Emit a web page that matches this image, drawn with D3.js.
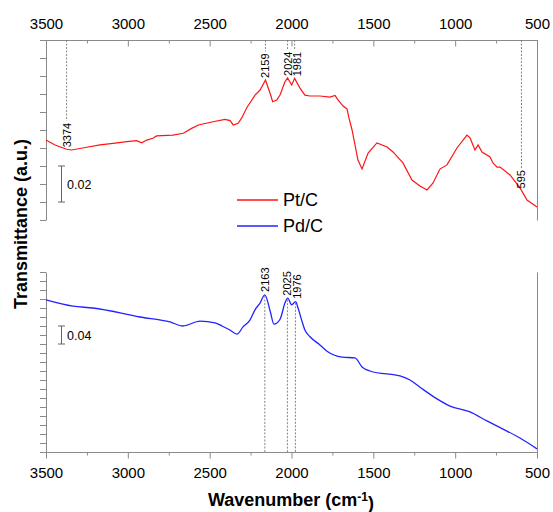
<!DOCTYPE html>
<html>
<head>
  <meta charset="utf-8">
  <title>FTIR Pt/C Pd/C</title>
  <script src="https://d3js.org/d3.v7.min.js"></script>
  <style>
    body { margin: 0; background: #fff; }
    text { font-family: "Liberation Sans", Arial, sans-serif; }
  </style>
</head>

<body>
<div id="chart"></div>
<script type="text/javascript">
  // spectra (wavenumber in cm-1, transmittance in a.u.)
  let wnPt = [3500, 3445, 3374, 3343, 3251, 3170, 3090, 3007, 2946, 2915, 2885, 2847, 2824, 2724, 2661,
              2610, 2569, 2480, 2406, 2375, 2356, 2326, 2304, 2274, 2223, 2192, 2159, 2131, 2115, 2090,
              2070, 2040, 2024, 1999, 1981, 1948, 1918, 1887, 1826, 1765, 1734, 1716, 1685, 1661, 1649,
              1630, 1594, 1569, 1532, 1478, 1416, 1380, 1319, 1264, 1215, 1172, 1135, 1093, 1050, 989,
              928, 909, 879, 860, 836, 787, 769, 744, 726, 665, 604, 561, 500];
  let tPt = [.0444, .0417, .0393, .0389, .0404, .0417, .0426, .0435, .0441, .0429, .0444, .0454, .0467, .0472, .0482,
             .0509, .0528, .0546, .0559, .0552, .0528, .0537, .0567, .0622, .0694, .0722, .0778, .0704, .0657, .0667,
             .0694, .0768, .0789, .0750, .0787, .0733, .0694, .0689, .0689, .0683, .0692, .0667, .0633, .0617, .0567,
             .0500, .0333, .0283, .0372, .0428, .0406, .0378, .0317, .0222, .0189, .0167, .0206, .0283, .0306, .0400,
             .0472, .0456, .0389, .0417, .0378, .0350, .0317, .0294, .0294, .0250, .0178, .0111, .0072];

  let wnPd = [3500, 3335, 3213, 2926, 2742, 2663, 2559, 2467, 2425, 2376, 2333, 2296, 2254, 2223, 2192,
              2163, 2131, 2107, 2070, 2040, 2023, 1999, 1975, 1960, 1938, 1918, 1887, 1826, 1783, 1691,
              1612, 1569, 1520, 1319, 1276, 1215, 1111, 1032, 909, 806, 708, 604, 500];
  let tPd = [.338, .324, .320, .300, .289, .280, .291, .287, .280, .271, .262, .278, .293, .316, .331,
             .349, .314, .284, .295, .331, .342, .327, .334, .320, .293, .271, .256, .238, .224, .211,
             .209, .189, .180, .167, .160, .144, .118, .102, .089, .069, .051, .031, .007];

  let peaksPt = [3374, 2159, 2024, 1981, 595];
  let peaksPd = [2163, 2025, 1976];

  let xTicks = [3500, 3000, 2500, 2000, 1500, 1000, 500];
  let xMinor = [3250, 2750, 2250, 1750, 1250, 750];
  let yTicksPt = d3.range(0, 0.1001, 0.01);
  let yTicksPd = d3.range(0, 0.4001, 0.02);

  let seriesNames = ['Pt/C', 'Pd/C'];
  let seriesColors = ['#ff1414', '#2323ff'];
  let scaleBarPt = [0.01, 0.03];   // 0.02
  let scaleBarPd = [0.24, 0.28];   // 0.04

  let W = 553, H = 512;
  let svg = d3.select('#chart')
      .append('svg')
        .attr('width', W)
        .attr('height', H);

  let x = d3.scaleLinear().domain([3500, 500]).range([46, 537]);
  let yPt = d3.scaleLinear().domain([0, 0.10]).range([220, 40]);
  let yPd = d3.scaleLinear().domain([0, 0.40]).range([452, 272]);

  // piecewise linear lookups, used to sit the peak labels on the curve
  let curvePt = d3.scaleLinear().domain(wnPt).range(tPt);
  let curvePd = d3.scaleLinear().domain(wnPd).range(tPd);

  let axisGray = '#8a8a8a';
  let fmt = d3.format('d');

  function styleAxis(g) {
    g.selectAll('path.domain').attr('stroke', axisGray);
    g.selectAll('.tick line').attr('stroke', axisGray);
    g.selectAll('.tick text')
      .attr('font-family', '"Liberation Sans", Arial, sans-serif')
      .attr('font-size', 15)
      .attr('fill', '#000');
  }

  // top axis (ticks inward)
  svg.append('g')
     .attr('transform', 'translate(0,40)')
     .call(d3.axisTop(x).tickValues(xTicks).tickFormat(fmt).tickSizeInner(-6.5).tickSizeOuter(0).tickPadding(11))
     .call(styleAxis);
  svg.append('g')
     .attr('transform', 'translate(0,40)')
     .call(d3.axisTop(x).tickValues(xMinor).tickSizeInner(-3.5).tickSizeOuter(0).tickFormat(''))
     .call(styleAxis)
     .select('path.domain').remove();

  // bottom axis
  svg.append('g')
     .attr('transform', 'translate(0,452)')
     .call(d3.axisBottom(x).tickValues(xTicks).tickFormat(fmt).tickSize(6.5).tickSizeOuter(0).tickPadding(9))
     .call(styleAxis);
  svg.append('g')
     .attr('transform', 'translate(0,452)')
     .call(d3.axisBottom(x).tickValues(xMinor).tickSize(3.5).tickFormat(''))
     .call(styleAxis)
     .select('path.domain').remove();

  // left and right sides of both panels
  [[yPt, yTicksPt], [yPd, yTicksPd]].forEach(([ys, tv]) => {
    svg.append('g')
       .attr('transform', 'translate(46,0)')
       .call(d3.axisLeft(ys).tickValues(tv).tickSize(6).tickSizeOuter(0).tickFormat(''))
       .call(styleAxis);
    svg.append('g')
       .attr('transform', 'translate(537,0)')
       .call(d3.axisRight(ys).tickValues([]).tickSizeOuter(0))
       .call(styleAxis);
  });

  // spectra
  let linePt = d3.line().x((d, i) => x(wnPt[i])).y(d => yPt(d)).curve(d3.curveLinear);
  let linePd = d3.line().x((d, i) => x(wnPd[i])).y(d => yPd(d)).curve(d3.curveMonotoneX);

  svg.append('path')
     .attr('d', linePt(tPt))
     .attr('fill', 'none')
     .attr('stroke', seriesColors[0])
     .attr('stroke-width', 1.2);
  svg.append('path')
     .attr('d', linePd(tPd))
     .attr('fill', 'none')
     .attr('stroke', seriesColors[1])
     .attr('stroke-width', 1.3);

  // push rotated labels apart when two peaks sit too close together
  function labelXs(peaks) {
    let out = [];
    peaks.forEach((p, i) => {
      let lx = x(p);
      if (i > 0 && lx - out[i - 1] < 9.5) lx = out[i - 1] + 9.5;
      out.push(lx);
    });
    return out;
  }

  // peak labels, Pt/C: dashed line from the top axis down to the label
  let lxPt = labelXs(peaksPt);
  peaksPt.forEach((p, i) => {
    let px = x(p);
    let yb = yPt(curvePt(p)) - 2;
    let t = svg.append('text')
       .attr('transform', `translate(${lxPt[i]},${yb}) rotate(-90)`)
       .attr('dy', '0.36em')
       .attr('font-size', 11)
       .text(p);
    let len = t.node().getComputedTextLength();
    svg.append('line')
       .attr('x1', px).attr('x2', px)
       .attr('y1', 40).attr('y2', yb - len - 2)
       .attr('stroke', '#777')
       .attr('stroke-width', 0.9)
       .attr('stroke-dasharray', '2,1.5');
  });

  // peak labels, Pd/C: dashed line from the peak down to the bottom axis
  let lxPd = labelXs(peaksPd);
  peaksPd.forEach((p, i) => {
    let px = x(p);
    let yc = yPd(curvePd(p));
    svg.append('text')
       .attr('transform', `translate(${lxPd[i]},${yc - 3}) rotate(-90)`)
       .attr('dy', '0.36em')
       .attr('font-size', 11)
       .text(p);
    svg.append('line')
       .attr('x1', px).attr('x2', px)
       .attr('y1', yc + 1).attr('y2', 452)
       .attr('stroke', '#777')
       .attr('stroke-width', 0.9)
       .attr('stroke-dasharray', '2,1.5');
  });

  // scale bars
  [[yPt, scaleBarPt, '0.02'], [yPd, scaleBarPd, '0.04']].forEach(([ys, b, lab]) => {
    let g = svg.append('g').attr('stroke', '#666').attr('stroke-width', 1);
    g.append('line').attr('x1', 61.5).attr('x2', 61.5).attr('y1', ys(b[0])).attr('y2', ys(b[1]));
    g.append('line').attr('x1', 58).attr('x2', 65).attr('y1', ys(b[0])).attr('y2', ys(b[0]));
    g.append('line').attr('x1', 58).attr('x2', 65).attr('y1', ys(b[1])).attr('y2', ys(b[1]));
    svg.append('text')
       .attr('x', 67)
       .attr('y', (ys(b[0]) + ys(b[1])) / 2)
       .attr('dy', '0.36em')
       .attr('font-size', 12.5)
       .text(lab);
  });

  // legend
  seriesNames.forEach((name, i) => {
    let ly = 200 + i * 26;
    svg.append('line')
       .attr('x1', 237).attr('x2', 278)
       .attr('y1', ly).attr('y2', ly)
       .attr('stroke', seriesColors[i])
       .attr('stroke-width', 1.3);
    svg.append('text')
       .attr('x', 283)
       .attr('y', ly)
       .attr('dy', '0.36em')
       .attr('font-size', 18)
       .text(name);
  });

  // axis titles
  let xt = svg.append('text')
     .attr('x', 291)
     .attr('y', 506)
     .attr('text-anchor', 'middle')
     .attr('font-size', 18)
     .attr('font-weight', 'bold');
  xt.append('tspan').text('Wavenumber (cm');
  xt.append('tspan').attr('dy', '-0.45em').attr('font-size', 12).text('-1');
  xt.append('tspan').attr('dy', '0.45em').text(')');

  svg.append('text')
     .attr('transform', 'translate(27,224) rotate(-90)')
     .attr('text-anchor', 'middle')
     .attr('font-size', 18)
     .attr('font-weight', 'bold')
     .text('Transmittance (a.u.)');
</script>
</body>
</html>
